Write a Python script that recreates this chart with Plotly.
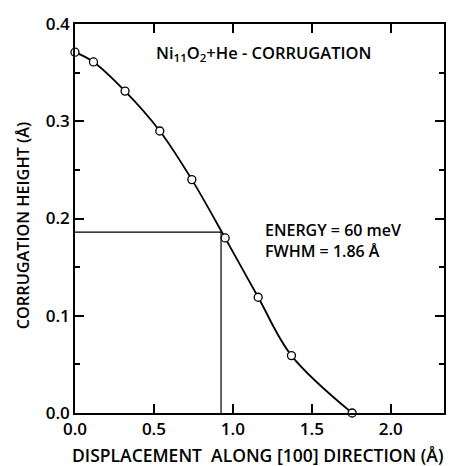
import plotly.graph_objects as go

# data
disp = [0.0, 0.117, 0.317, 0.537, 0.74, 0.951, 1.16, 1.371, 1.755]
height = [0.371, 0.361, 0.331, 0.290, 0.240, 0.180, 0.119, 0.059, 0.0]
fwhm_x = 0.925
half_h = 0.186
x_ticks = [0.0, 0.5, 1.0, 1.5, 2.0]
y_ticks = [0.0, 0.1, 0.2, 0.3, 0.4]

FONT = "Open Sans"
W = 600

fig = go.Figure()
fig.add_trace(go.Scatter(
    x=[0, fwhm_x, fwhm_x], y=[half_h, half_h, 0], mode="lines",
    line=dict(color="black", width=1.2), hoverinfo="skip", showlegend=False))
fig.add_trace(go.Scatter(
    x=disp, y=height, mode="lines+markers",
    line=dict(color="black", width=1.8, shape="spline", smoothing=1.0),
    marker=dict(symbol="circle", size=8, color="white",
                line=dict(color="black", width=1.3)),
    cliponaxis=False, showlegend=False))

axis_common = dict(showline=True, linecolor="black", linewidth=1.5, mirror="ticks",
                   ticks="inside", tickcolor="black", tickwidth=1.5, ticklen=9,
                   showgrid=False, zeroline=False,
                   tickfont=dict(family=FONT, size=17, color="black", weight=W))
fig.update_xaxes(range=[0, 2.337], tickvals=x_ticks,
                 ticktext=[f"{v:.1f}" for v in x_ticks], **axis_common)
fig.update_yaxes(range=[0, 0.4], tickvals=y_ticks,
                 ticktext=[f"{v:.1f}" for v in y_ticks],
                 minor=dict(ticks="inside", dtick=0.05, ticklen=5, tickwidth=1.5,
                            tickcolor="black"),
                 **axis_common)

txt = dict(family=FONT, color="black", weight=W)
fig.add_annotation(x=0.495, y=0, xref="paper", yref="paper", yanchor="middle",
                   yshift=-42, showarrow=False,
                   text="DISPLACEMENT  ALONG <span style='font-size:18px'>[</span>100<span style='font-size:18px'>]</span> DIRECTION (Å)",
                   font=dict(size=17.5, **txt))
fig.add_annotation(x=0, y=0.48, xref="paper", yref="paper", xanchor="center",
                   xshift=-52, showarrow=False,
                   text="CORRUGATION HEIGHT (Å)", textangle=-90,
                   font=dict(size=16.3, **txt))
fig.add_annotation(x=1.2, y=0.3706, xref="x", yref="y", showarrow=False,
                   text="Ni<sub>11</sub>O<sub>2</sub>+He - CORRUGATION",
                   font=dict(size=16.5, **txt))
fig.add_annotation(x=1.19, y=0.1885, xref="x", yref="y", showarrow=False,
                   xanchor="left", yanchor="middle",
                   text="ENERGY = 60 meV", font=dict(size=16, **txt))
fig.add_annotation(x=1.19, y=0.1665, xref="x", yref="y", showarrow=False,
                   xanchor="left", yanchor="middle",
                   text="FWHM = 1.86 Å", font=dict(size=16, **txt))

fig.update_layout(width=458, height=466, margin=dict(l=75, r=14, t=19, b=53),
                  paper_bgcolor="white", plot_bgcolor="white")
fig.write_html("out.html")
